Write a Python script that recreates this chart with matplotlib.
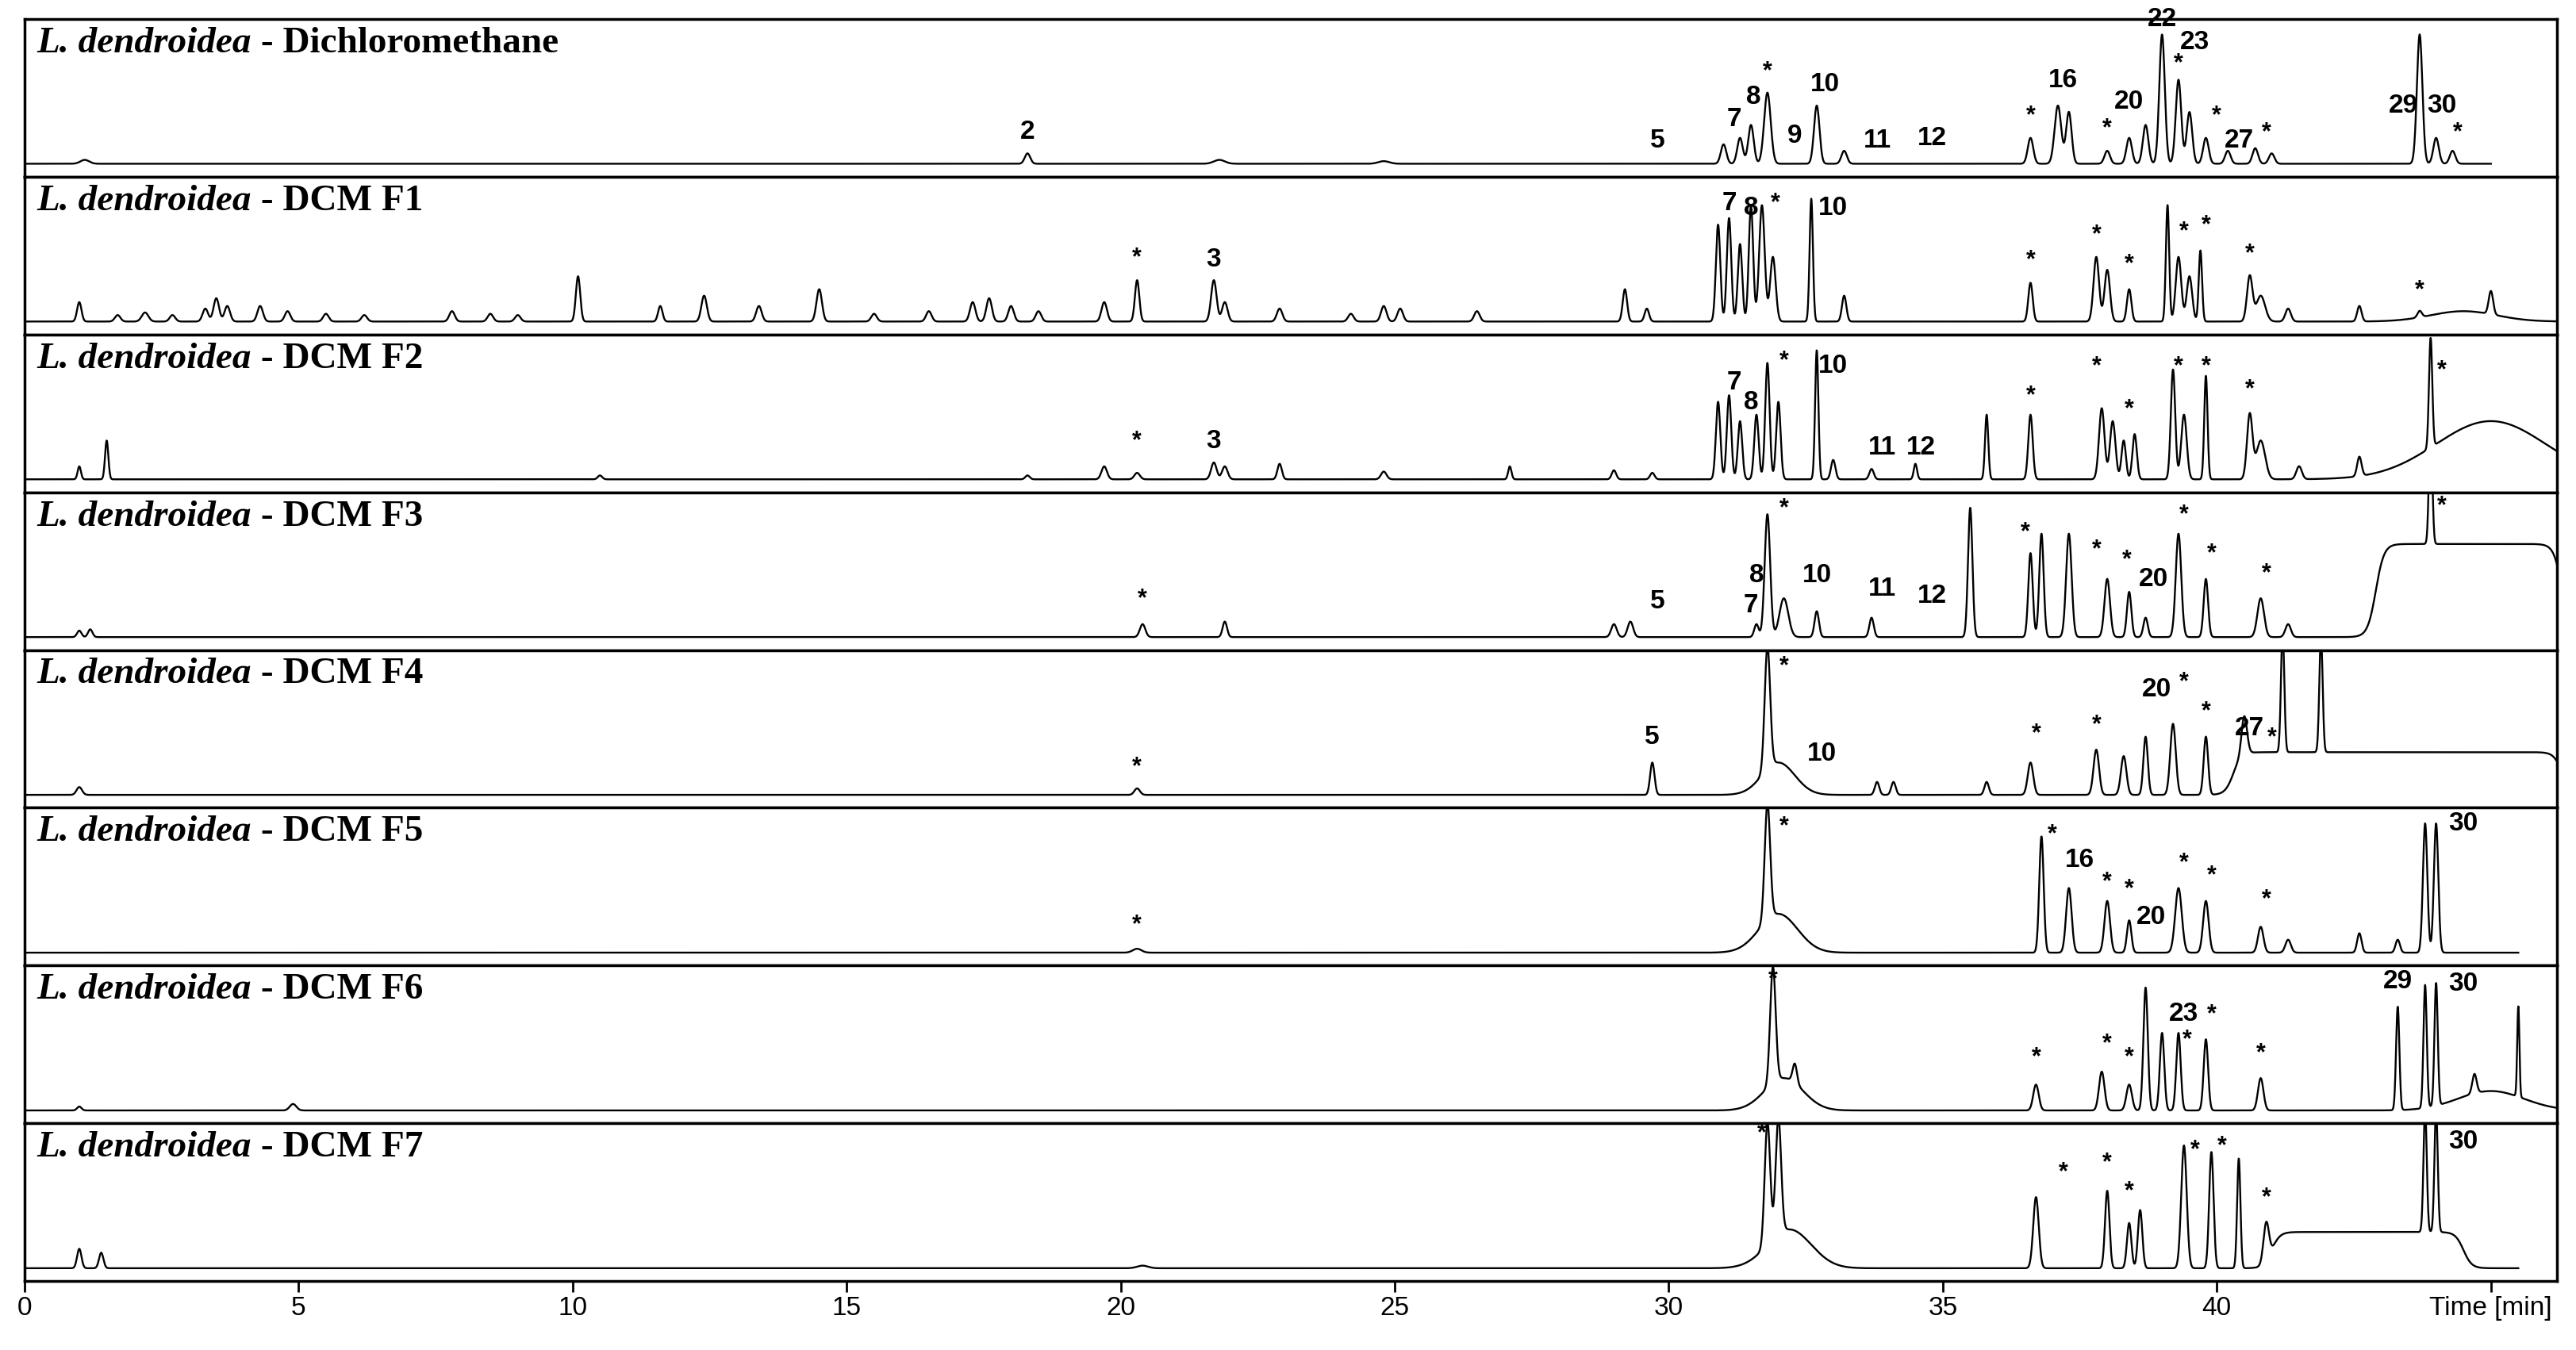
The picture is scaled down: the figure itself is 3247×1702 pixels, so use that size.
import matplotlib
matplotlib.use("Agg")
import matplotlib.pyplot as plt
import numpy as np

# -----------------------------
# Chromatogram data: (time min, relative height, width)
# -----------------------------
titles = ["Dichloromethane", "DCM F1", "DCM F2", "DCM F3", "DCM F4", "DCM F5", "DCM F6", "DCM F7"]

peaks_dcm = [(1.1, .03, .08), (18.3, .08, .05), (21.8, .03, .1), (24.8, .02, .1), (31.0, .15, .05), (31.3, .2, .05),
             (31.5, .3, .05), (31.8, .55, .06), (32.7, .45, .05), (33.2, .1, .05), (36.6, .2, .05),
             (37.1, .45, .06), (37.3, .4, .05), (38.0, .1, .05), (38.4, .2, .05), (38.7, .3, .05),
             (39.0, 1.0, .05), (39.3, .65, .05), (39.5, .4, .05), (39.8, .2, .05), (40.2, .1, .05),
             (40.7, .12, .05), (41.0, .08, .05), (43.7, 1.0, .05), (44.0, .2, .05), (44.3, .1, .05)]
peaks_f1 = [(1.0, .15, .04), (1.7, .05, .05), (2.2, .07, .06), (2.7, .05, .05), (3.3, .1, .05), (3.5, .18, .05),
            (3.7, .12, .05), (4.3, .12, .05), (4.8, .08, .05), (5.5, .06, .05), (6.2, .05, .05), (7.8, .08, .05),
            (8.5, .06, .05), (9.0, .05, .05), (10.1, .35, .04), (11.6, .12, .04), (12.4, .2, .05),
            (13.4, .12, .05), (14.5, .25, .05), (15.5, .06, .05), (16.5, .08, .05), (17.3, .15, .05),
            (17.6, .18, .05), (18.0, .12, .05), (18.5, .08, .05), (19.7, .15, .05), (20.3, .32, .04),
            (21.7, .32, .05), (21.9, .15, .05), (22.9, .1, .05), (24.2, .06, .05), (24.8, .12, .05),
            (25.1, .1, .05), (26.5, .08, .05), (29.2, .25, .04), (29.6, .1, .04), (30.9, .75, .04),
            (31.1, .8, .04), (31.3, .6, .04), (31.5, .9, .04), (31.7, .9, .05), (31.9, .5, .05),
            (32.6, .95, .03), (33.2, .2, .04), (36.6, .3, .04), (37.8, .5, .05), (38.0, .4, .05),
            (38.4, .25, .04), (39.1, .9, .03), (39.3, .5, .05), (39.5, .35, .05), (39.7, .55, .03),
            (40.6, .35, .05), (40.8, .2, .08), (41.3, .1, .05), (42.6, .12, .04), (43.7, .05, .04),
            (44.5, .08, .6), (45.0, .18, .04)]
peaks_f2 = [(1.0, .1, .03), (1.5, .3, .03), (10.5, .03, .04), (18.3, .03, .04), (19.7, .1, .05), (20.3, .05, .05),
            (21.7, .13, .05), (21.9, .1, .05), (22.9, .12, .04), (24.8, .06, .05), (27.1, .1, .03),
            (29.0, .07, .04), (29.7, .05, .04), (30.9, .6, .04), (31.1, .65, .04), (31.3, .45, .04),
            (31.6, .5, .04), (31.8, .9, .04), (32.0, .6, .04), (32.7, 1.0, .03), (33.0, .15, .04),
            (33.7, .08, .04), (34.5, .12, .03), (35.8, .5, .03), (36.6, .5, .04), (37.9, .55, .05),
            (38.1, .45, .05), (38.3, .3, .04), (38.5, .35, .04), (39.2, .85, .04), (39.4, .5, .05),
            (39.8, .8, .03), (40.6, .5, .05), (40.8, .3, .08), (41.5, .1, .05), (42.6, .15, .04),
            (43.9, .85, .03), (45.0, .45, 1.0)]
peaks_f3 = [(1.0, .05, .04), (1.2, .06, .04), (20.4, .1, .05), (21.9, .12, .04), (29.0, .1, .05), (29.3, .12, .05),
            (31.6, .1, .04), (31.8, .95, .05), (32.1, .3, .08), (32.7, .2, .04), (33.7, .15, .04),
            (35.5, 1.0, .04), (36.6, .65, .04), (36.8, .8, .04), (37.3, .8, .05), (38.0, .45, .05),
            (38.4, .35, .04), (38.7, .15, .04), (39.3, .8, .05), (39.8, .45, .04), (40.8, .3, .06),
            (41.3, .1, .05), (43.9, .95, .03)]
peaks_f4 = [(1.0, .06, .05), (20.3, .05, .05), (29.7, .25, .04), (31.8, .95, .05), (32.0, .25, .3),
            (33.8, .1, .04), (34.1, .1, .04), (35.8, .1, .04), (36.6, .25, .05), (37.8, .35, .05),
            (38.3, .3, .05), (38.7, .45, .04), (39.2, .55, .05), (39.8, .45, .04), (40.5, .3, .05),
            (41.2, .95, .03), (41.9, .9, .03)]
peaks_f5 = [(20.3, .03, .08), (31.8, .9, .05), (32.0, .3, .35), (36.8, .9, .04), (37.3, .5, .05),
            (38.0, .4, .05), (38.4, .25, .04), (39.3, .5, .06), (39.8, .4, .05), (40.8, .2, .05),
            (41.3, .1, .05), (42.6, .15, .04), (43.3, .1, .04), (43.8, 1.0, .04), (44.0, 1.0, .04)]
peaks_f6 = [(1.0, .03, .04), (4.9, .05, .06), (31.9, .9, .05), (32.1, .25, .35), (32.3, .15, .04),
            (36.7, .2, .05), (37.9, .3, .05), (38.4, .2, .05), (38.7, .95, .04), (39.0, .6, .04),
            (39.3, .6, .04), (39.8, .55, .04), (40.8, .25, .05), (43.3, .8, .03), (43.8, .95, .03),
            (44.0, .95, .03), (44.7, .15, .04), (45.0, .15, .6), (45.5, .7, .02)]
peaks_f7 = [(1.0, .15, .04), (1.4, .12, .04), (20.4, .02, .1), (31.8, .95, .05), (32.0, .9, .05), (32.2, .3, .4),
            (36.7, .55, .05), (38.0, .6, .04), (38.4, .35, .04), (38.6, .45, .04), (39.4, .95, .05),
            (39.9, .9, .04), (40.4, .85, .03), (40.9, .3, .05), (43.8, .95, .03), (44.0, .95, .03)]
all_peaks = [peaks_dcm, peaks_f1, peaks_f2, peaks_f3, peaks_f4, peaks_f5, peaks_f6, peaks_f7]

# plateaus (start, end, level) for raised noisy baselines
plateaus = [[], [], [], [(42.9, 46.3, .72)], [(40.3, 46.3, .33)], [], [], [(41.0, 44.5, .28)]]
end_times = [45.0, 46.3, 46.3, 46.3, 46.3, 45.5, 46.3, 45.5]

# annotations (time, height, text)
labels = [
    [(18.3, .15, "2"), (29.8, .08, "5"), (31.2, .25, "7"), (31.55, .42, "8"), (31.8, .62, "*"), (32.3, .12, "9"),
     (32.85, .52, "10"), (33.8, .08, "11"), (34.8, .1, "12"), (36.6, .28, "*"), (37.2, .55, "16"),
     (38.0, .18, "*"), (38.4, .38, "20"), (39.0, 1.02, "22"), (39.6, .84, "23"), (39.3, .68, "*"),
     (40.0, .28, "*"), (40.4, .08, "27"), (40.9, .15, "*"), (43.4, .35, "29"), (44.1, .35, "30"), (44.4, .15, "*")],
    [(20.3, .4, "*"), (21.7, .38, "3"), (31.1, .82, "7"), (31.5, .78, "8"), (31.95, .82, "*"), (33.0, .78, "10"),
     (36.6, .38, "*"), (37.8, .58, "*"), (38.4, .35, "*"), (39.4, .6, "*"), (39.8, .65, "*"), (40.6, .43, "*"),
     (43.7, .15, "*")],
    [(20.3, .2, "*"), (21.7, .2, "3"), (31.2, .65, "7"), (31.5, .5, "8"), (32.1, .82, "*"), (33.0, .78, "10"),
     (33.9, .15, "11"), (34.6, .15, "12"), (36.6, .55, "*"), (37.8, .78, "*"), (38.4, .45, "*"), (39.3, .78, "*"),
     (39.8, .78, "*"), (40.6, .6, "*"), (44.1, .75, "*")],
    [(20.4, .2, "*"), (29.8, .18, "5"), (31.5, .15, "7"), (31.6, .38, "8"), (32.1, .9, "*"), (32.7, .38, "10"),
     (33.9, .28, "11"), (34.8, .22, "12"), (36.5, .72, "*"), (37.8, .58, "*"), (38.35, .5, "*"), (38.85, .35, "20"),
     (39.4, .85, "*"), (39.9, .55, "*"), (40.9, .4, "*"), (44.1, .92, "*")],
    [(20.3, .12, "*"), (29.7, .35, "5"), (32.1, .9, "*"), (32.8, .22, "10"), (36.7, .38, "*"), (37.8, .45, "*"),
     (38.9, .72, "20"), (39.4, .78, "*"), (39.8, .55, "*"), (40.6, .42, "27"), (41.0, .35, "*")],
    [(20.3, .12, "*"), (32.1, .88, "*"), (37.0, .82, "*"), (37.5, .62, "16"), (38.0, .45, "*"), (38.4, .4, "*"),
     (38.8, .18, "20"), (39.4, .6, "*"), (39.9, .5, "*"), (40.9, .32, "*"), (44.5, .9, "30")],
    [(31.9, .92, "*"), (36.7, .32, "*"), (38.0, .42, "*"), (38.4, .32, "*"), (39.4, .65, "23"), (39.45, .45, "*"),
     (39.9, .65, "*"), (40.8, .35, "*"), (43.3, .9, "29"), (44.5, .88, "30")],
    [(31.7, .95, "*"), (37.2, .65, "*"), (38.0, .72, "*"), (38.4, .5, "*"), (39.6, .82, "*"), (40.1, .85, "*"),
     (40.9, .45, "*"), (44.5, .88, "30")],
]

xticks = [0, 5, 10, 15, 20, 25, 30, 35, 40, 45]
xticklabels = ["0", "5", "10", "15", "20", "25", "30", "35", "40", "Time [min]"]


def build_trace(peaks, plats, t_end):
    t = np.linspace(0.0, t_end, 8000)
    y = np.zeros_like(t)
    for c, h, w in peaks:
        y += h * np.exp(-0.5 * ((t - c) / w) ** 2)
    for a, b, lev in plats:
        y += lev * 0.5 * (np.tanh((t - a) / 0.15) - np.tanh((t - b) / 0.15))
    return t, y


def main():
    fig, axes = plt.subplots(8, 1, figsize=(32.47, 17.02), dpi=100, sharex=True)
    fig.subplots_adjust(left=0.0095, right=0.9925, top=0.986, bottom=0.051, hspace=0)

    for i, ax in enumerate(axes):
        t, y = build_trace(all_peaks[i], plateaus[i], end_times[i])
        ax.plot(t, y, color="black", lw=1.7)
        ax.set_ylim(-0.1, 1.12)
        ax.set_xlim(0, 46.2)
        ax.set_yticks([])
        for s in ax.spines.values():
            s.set_linewidth(2.5)
        ax.tick_params(axis="x", length=0 if i < 7 else 10, width=2)
        for x, h, txt in labels[i]:
            ax.text(x, h, txt, ha="center", va="bottom", fontsize=22 if txt == "*" else 24,
                    fontweight="bold", family="Liberation Sans")
        t1 = ax.text(0.005, 0.95, "L. dendroidea", transform=ax.transAxes, ha="left", va="top",
                     fontsize=34, fontweight="bold", fontstyle="italic", family="Liberation Serif")
        ax.annotate(" - " + titles[i], xy=(1, 0), xycoords=t1, ha="left", va="bottom",
                    fontsize=34, fontweight="bold", family="Liberation Serif")

    axes[-1].set_xticks(xticks)
    axes[-1].set_xticklabels(xticklabels, fontsize=24, family="Liberation Sans")

    fig.savefig("out.png", dpi=100)
    plt.close(fig)


if __name__ == "__main__":
    main()
